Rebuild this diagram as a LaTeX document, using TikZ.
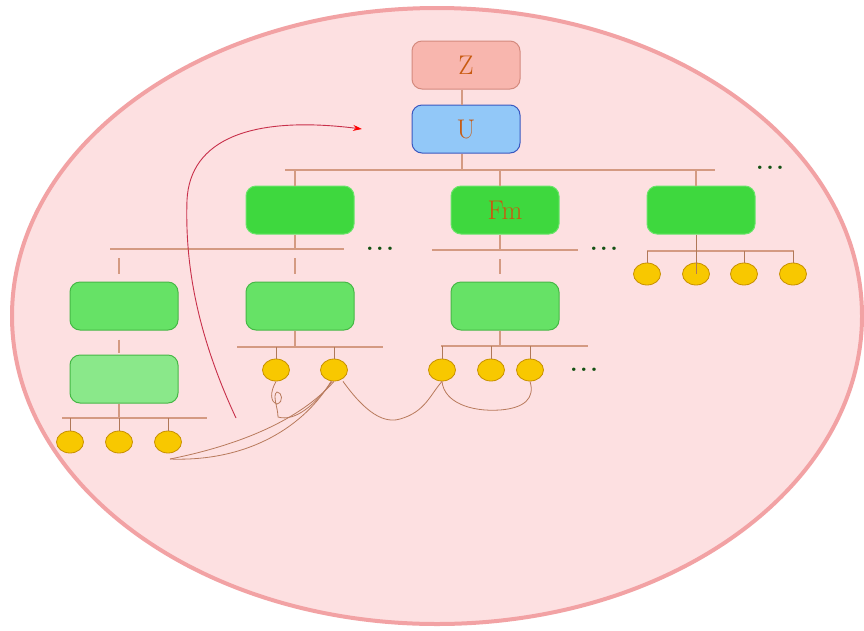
\documentclass[tikz,border=0pt]{standalone}
\usetikzlibrary{shapes.geometric,arrows.meta}
\definecolor{bgpink}{HTML}{FDE0E1}
\definecolor{ringpink}{HTML}{F2A2A4}
\definecolor{zfill}{HTML}{F8B6AE}
\definecolor{zdraw}{HTML}{D48A7E}
\definecolor{ufill}{HTML}{92C8F8}
\definecolor{udraw}{HTML}{3A58C0}
\definecolor{gone}{HTML}{3ED83E}
\definecolor{goneb}{HTML}{6AE46A}
\definecolor{gtwo}{HTML}{66E266}
\definecolor{gthree}{HTML}{8AE88A}
\definecolor{gdraw}{HTML}{46B846}
\definecolor{leaffill}{HTML}{F8C800}
\definecolor{leafdraw}{HTML}{C89000}
\definecolor{buscol}{HTML}{D49A82}
\definecolor{dropcol}{HTML}{B07858}
\definecolor{labcol}{HTML}{C85A10}
\definecolor{dotcol}{HTML}{145214}
\definecolor{curvecol}{HTML}{B87A5C}
\definecolor{arrowcol}{HTML}{C8304A}
\tikzset{
  box/.style={rounded corners=10pt, minimum width=108pt, minimum height=48pt,
    line width=1pt, inner sep=0pt, text=labcol,
    font=\fontsize{27}{30}\selectfont},
  zbox/.style={box, fill=zfill, draw=zdraw},
  ubox/.style={box, fill=ufill, draw=udraw},
  lvlone/.style={box, fill=gone, draw=goneb},
  lvltwo/.style={box, fill=gtwo, draw=gdraw},
  lvlthree/.style={box, fill=gthree, draw=gdraw},
  leaf/.style={ellipse, fill=leaffill, draw=leafdraw, line width=0.8pt,
    minimum width=27pt, minimum height=22pt, inner sep=0pt},
  bus/.style={draw=buscol, line width=1.2pt},
  drop/.style={draw=dropcol, line width=1pt},
  gap/.style={bus, shorten <=9pt, shorten >=8pt},
  more/.style={text=dotcol, anchor=base, inner sep=0pt,
    font=\fontsize{24}{24}\selectfont\bfseries},
  link/.style={draw=curvecol, line width=0.8pt}
}
\newcommand{\moredots}{.\kern2.5pt.\kern2.5pt.}
\begin{document}
\begin{tikzpicture}[x=1pt, y=-1pt]
\useasboundingbox (0,0) rectangle (864,630);
\fill[white] (0,0) rectangle (864,630);
% enclosing domain
\draw[draw=ringpink, fill=bgpink, line width=4pt] (437,316) ellipse [x radius=425, y radius=308];

% top of the hierarchy
\node[zbox] (Z) at (466,65) {Z};
\node[ubox] (U) at (466,129) {U};
\draw[bus] ([xshift=-4pt]Z.south) -- ([xshift=-4pt]U.north);

% first level
\coordinate (b0L) at (285,170);
\coordinate (b0R) at (715,170);
\draw[bus] (b0L) -- (b0R);
\draw[bus] ([xshift=-4pt]U.south) -- ([xshift=-4pt]U.south |- b0L);
\node[more] (m0) at (770,169) {\moredots};

\node[lvlone] (A) at (300,210) {};
\node[lvlone] (Fm) at (505,210) {Fm};
\node[lvlone] (C) at (701,210) {};
\foreach \n in {A,Fm,C}
  \draw[bus] ([xshift=-5pt]\n.north) -- ([xshift=-5pt]\n.north |- b0L);

% second level under A
\coordinate (bAL) at (110,249);
\coordinate (bAR) at (344,249);
\draw[bus] (bAL) -- (bAR);
\draw[bus] ([xshift=-5pt]A.south) -- ([xshift=-5pt]A.south |- bAL);
\node[more] (mA) at (380,250) {\moredots};
\node[lvltwo] (D) at (124,306) {};
\node[lvltwo] (E) at (300,306) {};
\draw[gap] ([xshift=-5pt]D.north |- bAL) -- ([xshift=-5pt]D.north);
\draw[gap] ([xshift=-5pt]E.north |- bAL) -- ([xshift=-5pt]E.north);

% second level under Fm
\coordinate (bFL) at (432,250);
\coordinate (bFR) at (578,250);
\draw[bus] (bFL) -- (bFR);
\draw[bus] ([xshift=-5pt]Fm.south) -- ([xshift=-5pt]Fm.south |- bFL);
\node[more] (mF) at (604,250) {\moredots};
\node[lvltwo] (F) at (505,306) {};
\draw[gap] ([xshift=-5pt]F.north |- bFL) -- ([xshift=-5pt]F.north);

% leaves under C
\coordinate (bCL) at (647,251);
\coordinate (bCR) at (794,251);
\draw[bus] (bCL) -- (bCR);
\node[leaf] (c1) at (647,274) {};
\node[leaf] (c2) at (696,274) {};
\node[leaf] (c3) at (744,274) {};
\node[leaf] (c4) at (793,274) {};
\foreach \n in {c1,c3,c4} \draw[drop] (\n.north) -- (\n.north |- bCL);
\draw[drop] (c2.center |- C.south) -- (c2.center);

% third level under D
\node[lvlthree] (G) at (124,379) {};
\draw[bus, shorten <=9pt, shorten >=2pt] ([xshift=-5pt]D.south) -- ([xshift=-5pt]G.north);
\coordinate (bGL) at (62,418);
\coordinate (bGR) at (207,418);
\draw[bus] (bGL) -- (bGR);
\draw[bus] ([xshift=-5pt]G.south) -- ([xshift=-5pt]G.south |- bGL);
\node[leaf] (g1) at (70,442) {};
\node[leaf] (g2) at (119,442) {};
\node[leaf] (g3) at (168,442) {};
\foreach \n in {g1,g2,g3} \draw[drop] (\n.north) -- (\n.north |- bGL);

% leaves under E
\coordinate (bEL) at (237,347);
\coordinate (bER) at (383,347);
\draw[bus] (bEL) -- (bER);
\draw[bus] ([xshift=-5pt]E.south) -- ([xshift=-5pt]E.south |- bEL);
\node[leaf] (e1) at (276,370) {};
\node[leaf] (e2) at (334,370) {};
\foreach \n in {e1,e2} \draw[drop] (\n.north) -- (\n.north |- bEL);

% leaves under F
\coordinate (bHL) at (441,346);
\coordinate (bHR) at (588,346);
\draw[bus] (bHL) -- (bHR);
\draw[bus] ([xshift=-5pt]F.south) -- ([xshift=-5pt]F.south |- bHL);
\node[leaf] (f1) at (442,370) {};
\node[leaf] (f2) at (491,370) {};
\node[leaf] (f3) at (530,370) {};
\foreach \n in {f1,f2,f3} \draw[drop] (\n.north) -- (\n.north |- bHL);
\node[more] (mH) at (584,371) {\moredots};

% links between leaves
\coordinate (gs) at (170,459);
\draw[link] (gs) .. controls (240,445) and (300,420) .. (e2.south);
\draw[link] (gs) .. controls (250,462) and (305,425) .. ([xshift=-3pt]e2.south);
\draw[link] (e1.south) .. controls (270,392) and (270,402) .. (277,404)
  .. controls (284,402) and (282,392) .. (277,392)
  .. controls (272,395) and (278,408) .. (278,417)
  .. controls (295,422) and (315,405) .. ([xshift=-2pt]e2.south);
\draw[link] ([xshift=9pt]e2.south) .. controls (360,405) and (380,425) .. (400,419)
  .. controls (425,412) and (430,395) .. (f1.south);
\draw[link] (f1.south) .. controls (444,402) and (470,412) .. (500,410)
  .. controls (525,408) and (535,398) .. (f3.south);

% overall flow back to the top
\coordinate (as) at (236,418);
\coordinate (ae) at (362,129);
\draw[draw=arrowcol, line width=0.9pt, -{Stealth[length=9pt, width=6pt, color=red]}]
  (as) .. controls (195,330) and (185,260) .. (187,200)
  .. controls (190,140) and (250,115) .. (ae);
\end{tikzpicture}
\end{document}
